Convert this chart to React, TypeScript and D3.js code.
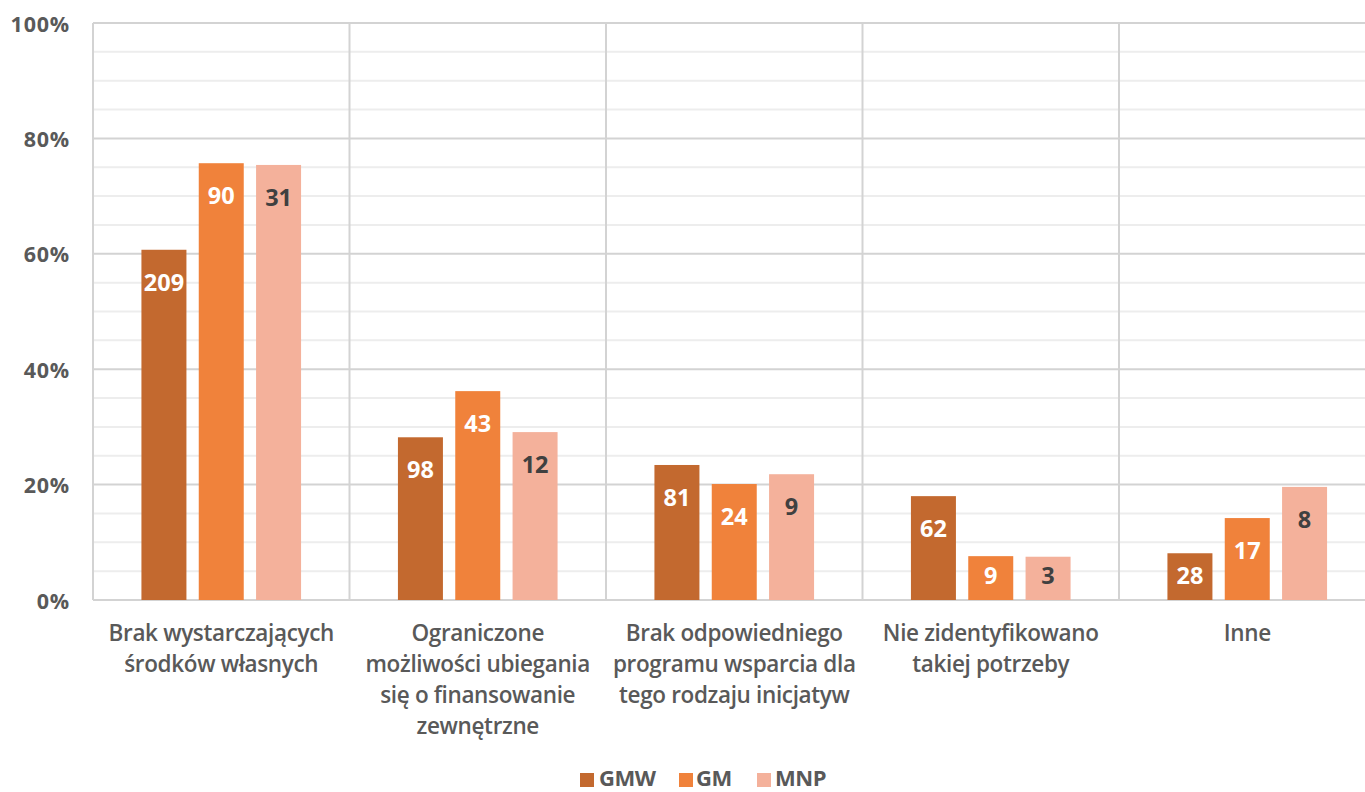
import React from "react";
import * as d3 from "d3";

const categories: string[][] = [
  ["Brak wystarczających", "środków własnych"],
  ["Ograniczone", "możliwości ubiegania", "się o finansowanie", "zewnętrzne"],
  ["Brak odpowiedniego", "programu wsparcia dla", "tego rodzaju inicjatyw"],
  ["Nie zidentyfikowano", "takiej potrzeby"],
  ["Inne"],
];
const seriesNames = ["GMW", "GM", "MNP"];
const seriesColors = ["#C3692F", "#F0823B", "#F4B19B"];
const labelColors = ["#ffffff", "#ffffff", "#404040"];
const pctGMW = [60.7, 28.2, 23.4, 18.0, 8.1];
const pctGM = [75.7, 36.2, 20.1, 7.6, 14.2];
const pctMNP = [75.4, 29.1, 21.8, 7.5, 19.6];
const cntGMW = [209, 98, 81, 62, 28];
const cntGM = [90, 43, 24, 9, 17];
const cntMNP = [31, 12, 9, 3, 8];
const yTicks = [0, 20, 40, 60, 80, 100];
const minorTicks = [5, 10, 15, 25, 30, 35, 45, 50, 55, 65, 70, 75, 85, 90, 95];

const pcts = [pctGMW, pctGM, pctMNP];
const cnts = [cntGMW, cntGM, cntMNP];

const FONT = "'Open Sans', sans-serif";
const TEXT = "#595959";

export default function App() {
  const W = 1365, H = 792;
  const left = 93, top = 23, bottom = 600;
  const catW = 256.5;
  const idx = categories.map((_, i) => String(i));
  const x = d3.scaleBand<string>().domain(idx).range([left, left + catW * categories.length]).padding(0);
  const xs = d3.scaleBand<string>().domain(seriesNames).range([0, catW]).paddingInner(0.215).paddingOuter(0.845);
  const y = d3.scaleLinear().domain([0, 100]).range([bottom, top]);
  const right = W + 20;

  return (
    <svg width={W} height={H} style={{ position: "absolute", left: 0, top: 0, background: "#fff" }} fontFamily={FONT}>
      {minorTicks.map((t) => (
        <line key={"m" + t} x1={left} x2={right} y1={y(t)} y2={y(t)} stroke="#ededed" strokeWidth={2} />
      ))}
      {yTicks.map((t) => (
        <line key={"g" + t} x1={left} x2={right} y1={y(t)} y2={y(t)} stroke="#d3d3d3" strokeWidth={2} />
      ))}
      {idx.map((c) => (
        <line key={"v" + c} x1={x(c)!} x2={x(c)!} y1={top} y2={bottom} stroke="#d3d3d3" strokeWidth={2} />
      ))}
      {yTicks.map((t) => (
        <text key={"t" + t} x={70} y={y(t)} textAnchor="end" dominantBaseline="central" fontSize={21.5} fontWeight={700} fill={TEXT} letterSpacing={0.8}>
          {t}%
        </text>
      ))}
      {seriesNames.map((s, si) =>
        idx.map((c, ci) => {
          const v = pcts[si][ci];
          const bx = x(c)! + xs(s)!;
          const by = y(v);
          const ly = Math.min(by + 32, 575);
          return (
            <g key={s + c}>
              <rect x={bx} y={by} width={xs.bandwidth()} height={bottom - by} fill={seriesColors[si]} />
              <text x={bx + xs.bandwidth() / 2} y={ly} textAnchor="middle" dominantBaseline="central" fontSize={23.5} fontWeight={700} fill={labelColors[si]} letterSpacing={0}>
                {cnts[si][ci]}
              </text>
            </g>
          );
        })
      )}
      {categories.map((lines, ci) => (
        <text key={"c" + ci} x={x(String(ci))! + catW / 2} textAnchor="middle" fontSize={22.5} fontWeight={600} fill={TEXT} letterSpacing={-0.35}>
          {lines.map((l, li) => (
            <tspan key={li} x={x(String(ci))! + catW / 2} y={641 + li * 31}>
              {l}
            </tspan>
          ))}
        </text>
      ))}
      {(() => {
        const items = [
          { sx: 580, tx: 599 },
          { sx: 679, tx: 696 },
          { sx: 757, tx: 775 },
        ];
        return seriesNames.map((s, si) => (
          <g key={"l" + s}>
            <rect x={items[si].sx} y={773} width={14} height={14} fill={seriesColors[si]} />
            <text x={items[si].tx} y={786} fontSize={22} fontWeight={700} fill={TEXT} letterSpacing={-0.4}>
              {s}
            </text>
          </g>
        ));
      })()}
    </svg>
  );
}
